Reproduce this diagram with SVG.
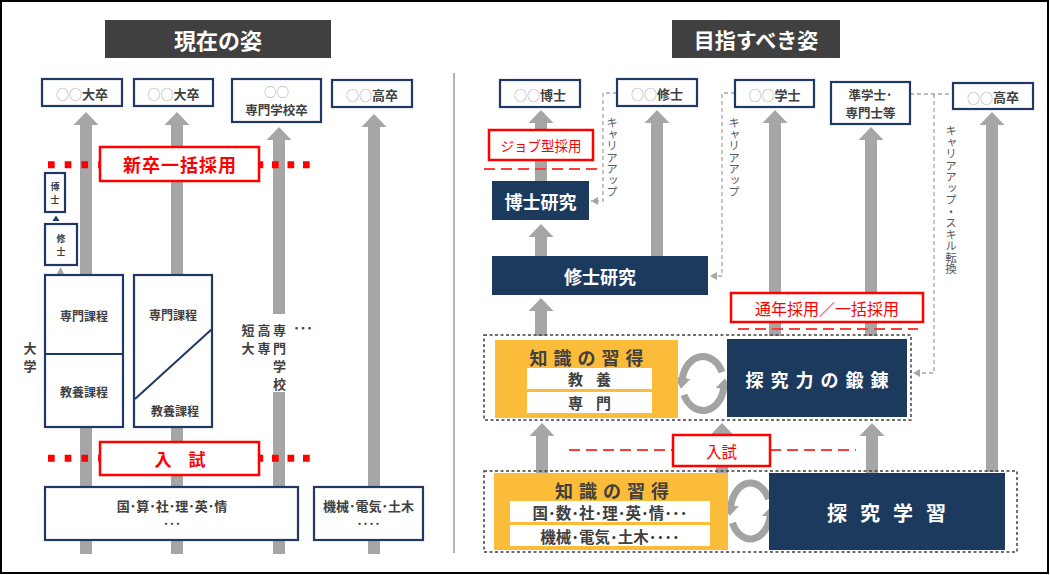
<svg xmlns="http://www.w3.org/2000/svg" width="1050" height="575" viewBox="0 0 1050 575">
<style>
text{font-family:"Noto Sans CJK JP","Noto Sans",sans-serif;dominant-baseline:central;text-anchor:middle}
.b{font-weight:bold}
.dk{fill:#404040}
.lg{fill:#a6a6a6;font-weight:normal}
.nb{fill:#fff;stroke:#1f3864;stroke-width:2.2}
.sh{fill:#a6a6a6}
.nv{fill:#1c3a5e}
.rb{fill:#fff;stroke:#ff0000;stroke-width:2.5}
.rt{fill:#ff0000}
.rd{stroke:#ff0000;stroke-width:7;fill:none}
.rdash{stroke:#ff3b3b;stroke-width:2;stroke-dasharray:11 6;fill:none}
.gc{fill:none;stroke:#a6a6a6;stroke-width:1.3;stroke-dasharray:4 3}
.db{fill:none;stroke:#404040;stroke-width:1.5;stroke-dasharray:3 2.5}
.or{fill:#fbbc3a}
.wb{fill:#fff}
.cy{fill:none;stroke:#a3a3a3;stroke-width:7}
.vt{writing-mode:vertical-rl;text-anchor:start;fill:#595959;font-size:11.5px}
.wt{fill:#fff;font-weight:bold}
</style>
<defs>
<marker id="ga" markerUnits="userSpaceOnUse" viewBox="0 0 7 8" refX="7" refY="4" markerWidth="7" markerHeight="8" orient="auto"><path d="M0,0 L7,4 L0,8 Z" fill="#a6a6a6"/></marker>
<marker id="ch" markerUnits="userSpaceOnUse" viewBox="0 0 12 18" refX="1" refY="9" markerWidth="12" markerHeight="18" orient="auto"><path d="M0,1 L11,9 L0,17 Z" fill="#a3a3a3"/></marker>
</defs>
<rect x="0" y="0" width="1050" height="575" fill="#fff"/>
<rect x="1" y="1" width="1047" height="572" fill="none" stroke="#000" stroke-width="2"/>

<g id="titles">
<rect x="105" y="20" width="226" height="38" fill="#404040"/>
<text x="218" y="39" class="wt" font-size="22">現在の姿</text>
<rect x="672" y="20" width="168" height="38" fill="#404040"/>
<text x="756" y="39" class="wt" font-size="21">目指すべき姿</text>
</g>
<line x1="454" y1="73" x2="454" y2="553" stroke="#9a9a9a" stroke-width="1.5"/>

<g id="connectors">
<path class="sh" d="M80,554 V125 H73.5 L86,112 L98.5,125 H92 V554 Z"/>
<path class="sh" d="M171,554 V125 H164.5 L177,112 L189.5,125 H183 V554 Z"/>
<path class="sh" d="M273,554 V140 H266.5 L279,127 L291.5,140 H285 V554 Z"/>
<path class="sh" d="M368,554 V127 H361.5 L374,114 L386.5,127 H380 V554 Z"/>
<rect x="268" y="314" width="22" height="78" fill="#fff"/>
<path fill="#1f3864" d="M52.5,221 L56,215.5 L59.5,221 Z"/>
<path fill="#a6a6a6" d="M57,274 L60.5,267 L64,274 Z"/>

<path class="sh" d="M535,182 V123 H528.5 L541,110 L553.5,123 H547 V182 Z"/>
<path class="sh" d="M535,257 V237 H528.5 L541,224 L553.5,237 H547 V257 Z"/>
<path class="sh" d="M535,336 V311 H528.5 L541,298 L553.5,311 H547 V336 Z"/>
<path class="sh" d="M651,257 V123 H644.5 L657,110 L669.5,123 H663 V257 Z"/>
<path class="sh" d="M769,336 V123 H762.5 L775,110 L787.5,123 H781 V336 Z"/>
<path class="sh" d="M865,336 V140 H858.5 L871,127 L883.5,140 H877 V336 Z"/>
<path class="sh" d="M986,472 V125 H979.5 L992,112 L1004.5,125 H998 V472 Z"/>
<path class="sh" d="M536,473 V436 H529.5 L542,423 L554.5,436 H548 V473 Z"/>
<path class="sh" d="M716,473 V436 H709.5 L722,423 L734.5,436 H728 V473 Z"/>
<path class="sh" d="M866,473 V436 H859.5 L872,423 L884.5,436 H878 V473 Z"/>

<path class="gc" d="M617,93 H603 V201 H591" marker-end="url(#ga)"/>
<path class="gc" d="M735,93 H722 V276 H710" marker-end="url(#ga)"/>
<path class="gc" d="M910,94 H953"/>
<path class="gc" d="M934,94 V373 H913" marker-end="url(#ga)"/>
<text class="vt" x="612" y="117">キャリアアップ</text>
<text class="vt" x="734" y="117">キャリアアップ</text>
<text class="vt" x="951" y="125">キャリアアップ・スキル転換</text>

<path class="rd" d="M48,164.7 H104" stroke-dasharray="6.7 10"/>
<path class="rd" d="M256.5,164.7 H311" stroke-dasharray="6.7 8.8"/>
<path class="rd" d="M48,458.3 H104" stroke-dasharray="6.7 10"/>
<path class="rd" d="M256.5,458.3 H311" stroke-dasharray="6.7 8.8"/>
<path class="rdash" d="M484,169 H597"/>
<path class="rdash" d="M738,329 H918"/>
<path class="rdash" d="M569,450 H673 M770,450 H856"/>

<path class="cy" d="M722,372.1 A21,27 0 0 0 682.3,378.8" marker-end="url(#ch)"/>
<path class="cy" d="M684,394.9 A21,27 0 0 0 723.7,388.2" marker-end="url(#ch)"/>
<path class="cy" d="M768.6,499.2 A20,28 0 0 0 730.8,506.1" marker-end="url(#ch)"/>
<path class="cy" d="M732.4,522.8 A20,28 0 0 0 770.2,515.9" marker-end="url(#ch)"/>
</g>

<g id="l-daisotsu1"><rect class="nb" x="42" y="79" width="80" height="27"/>
<text x="82" y="93" font-size="13" class="b dk"><tspan class="lg">○○</tspan>大卒</text></g>
<g id="l-daisotsu2"><rect class="nb" x="134" y="79" width="79" height="27"/>
<text x="173.5" y="93" font-size="13" class="b dk"><tspan class="lg">○○</tspan>大卒</text></g>
<g id="l-senmon"><rect class="nb" x="232" y="79" width="89" height="43"/>
<text x="276.5" y="91" font-size="12.5" class="lg">○○</text>
<text x="276.5" y="109" font-size="12.5" class="b dk">専門学校卒</text></g>
<g id="l-kousotsu"><rect class="nb" x="332" y="80" width="80" height="27"/>
<text x="372" y="94" font-size="13" class="b dk"><tspan class="lg">○○</tspan>高卒</text></g>

<g id="l-shinsotsu"><rect class="rb" x="100" y="147" width="159" height="34"/>
<text x="180" y="164" font-size="18" class="b rt" letter-spacing="1">新卒一括採用</text></g>
<g id="l-hakushi"><rect class="nb" x="45" y="173" width="20" height="39" stroke-width="1.8"/>
<text x="55" y="186.5" font-size="9" class="b dk">博</text><text x="55" y="199" font-size="9" class="b dk">士</text></g>
<g id="l-shushi"><rect class="nb" x="45" y="224" width="32" height="41" stroke-width="1.8"/>
<text x="61" y="238.5" font-size="9" class="b dk">修</text><text x="61" y="251" font-size="9" class="b dk">士</text></g>
<g id="l-univ1"><rect class="nb" x="45" y="275" width="78" height="152"/>
<line x1="45" y1="354" x2="123" y2="354" stroke="#1f3864" stroke-width="2"/>
<text x="84" y="315" font-size="12" class="b dk">専門課程</text>
<text x="84" y="391" font-size="12" class="b dk">教養課程</text></g>
<g id="l-univ2"><rect class="nb" x="134" y="275" width="78" height="152"/>
<line x1="135" y1="399" x2="212" y2="329" stroke="#1f3864" stroke-width="2"/>
<text x="173" y="314" font-size="12" class="b dk">専門課程</text>
<text x="175" y="410" font-size="12" class="b dk">教養課程</text></g>
<g id="l-daigaku"><text x="30" y="347" font-size="13" class="b dk">大</text><text x="30" y="365" font-size="13" class="b dk">学</text></g>
<g id="l-others">
<text x="248" y="329" font-size="13" class="b dk">短</text><text x="248" y="347" font-size="13" class="b dk">大</text>
<text x="264" y="329" font-size="13" class="b dk">高</text><text x="264" y="347" font-size="13" class="b dk">専</text>
<text x="279.5" y="329" font-size="13" class="b dk">専</text><text x="279.5" y="347" font-size="13" class="b dk">門</text>
<text x="279.5" y="365" font-size="13" class="b dk">学</text><text x="279.5" y="383" font-size="13" class="b dk">校</text>
<text x="303" y="327" font-size="13" class="b dk">･･･</text></g>
<g id="l-nyushi"><rect class="rb" x="100" y="442" width="159" height="33"/>
<text x="180" y="458.5" font-size="17" class="b rt">入　試</text></g>
<g id="l-subjects"><rect class="nb" x="45" y="487" width="253" height="53"/>
<text x="172" y="505" font-size="13" class="b dk">国･算･社･理･英･情</text>
<text x="172" y="523" font-size="12" class="b dk">･･･</text></g>
<g id="l-kogyo"><rect class="nb" x="314" y="487" width="109" height="53"/>
<text x="368.5" y="505" font-size="13" class="b dk">機械･電気･土木</text>
<text x="368.5" y="523" font-size="12" class="b dk">････</text></g>

<g id="r-hakushi"><rect class="nb" x="500" y="80" width="80" height="27"/>
<text x="540" y="94" font-size="13" class="b dk"><tspan class="lg">○○</tspan>博士</text></g>
<g id="r-shushi"><rect class="nb" x="617" y="79" width="80" height="27"/>
<text x="657" y="93" font-size="13" class="b dk"><tspan class="lg">○○</tspan>修士</text></g>
<g id="r-gakushi"><rect class="nb" x="735" y="80" width="79" height="27"/>
<text x="774.5" y="94" font-size="13" class="b dk"><tspan class="lg">○○</tspan>学士</text></g>
<g id="r-jungakushi"><rect class="nb" x="831" y="82" width="79" height="42"/>
<text x="870.5" y="94" font-size="12.5" class="b dk">準学士･</text>
<text x="870.5" y="112" font-size="12.5" class="b dk">専門士等</text></g>
<g id="r-kousotsu"><rect class="nb" x="953" y="83" width="80" height="26"/>
<text x="993" y="96.5" font-size="13" class="b dk"><tspan class="lg">○○</tspan>高卒</text></g>

<g id="r-job"><rect class="rb" x="489" y="130" width="104" height="30"/>
<text x="541" y="145" font-size="13.5" class="rt">ジョブ型採用</text></g>
<g id="r-hakushi-kenkyu"><rect class="nv" x="492" y="181" width="97" height="39"/>
<text x="540.5" y="201" font-size="18" class="wt">博士研究</text></g>
<g id="r-shushi-kenkyu"><rect class="nv" x="492" y="256" width="216" height="39"/>
<text x="600" y="275.5" font-size="18" class="wt">修士研究</text></g>
<g id="r-tsunen"><rect class="rb" x="731" y="293" width="192" height="29"/>
<text x="827" y="307.5" font-size="16" class="rt">通年採用／一括採用</text></g>

<g id="r-upper">
<rect class="db" x="484" y="335" width="427" height="85"/>
<rect class="or" x="495" y="340" width="183" height="78"/>
<text x="589.5" y="357" font-size="18" class="b dk" letter-spacing="6">知識の習得</text>
<rect class="wb" x="527" y="368" width="125" height="21"/>
<text x="596" y="378.5" font-size="15" class="b dk" letter-spacing="13">教養</text>
<rect class="wb" x="527" y="392" width="125" height="21"/>
<text x="596" y="402.5" font-size="15" class="b dk" letter-spacing="13">専門</text>
<rect class="nv" x="727" y="339" width="180" height="78"/>
<text x="820.5" y="379" font-size="18" class="wt" letter-spacing="7">探究力の鍛錬</text>
</g>

<g id="r-nyushi"><rect class="rb" x="673" y="435" width="97" height="31"/>
<text x="721.5" y="450.5" font-size="15.5" class="rt">入試</text></g>

<g id="r-lower">
<rect class="db" x="484" y="471" width="533" height="81"/>
<rect class="or" x="494" y="473" width="234" height="77"/>
<text x="615" y="490" font-size="18" class="b dk" letter-spacing="6">知識の習得</text>
<rect class="wb" x="510" y="501" width="200" height="21"/>
<text x="610" y="511.5" font-size="15.5" class="b dk">国･数･社･理･英･情･･･</text>
<rect class="wb" x="510" y="525" width="200" height="21"/>
<text x="610" y="535.5" font-size="15.5" class="b dk">機械･電気･土木････</text>
<rect class="nv" x="769" y="473" width="236" height="77"/>
<text x="893" y="512" font-size="20" class="wt" letter-spacing="13">探究学習</text>
</g>
</svg>
